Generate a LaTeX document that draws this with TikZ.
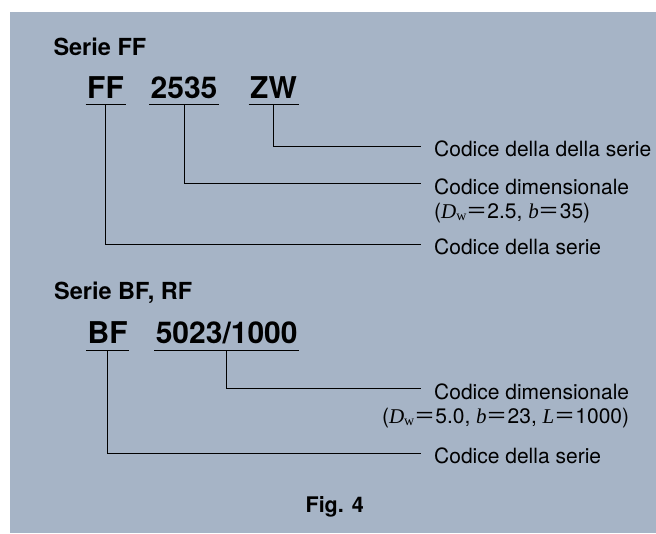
\documentclass[tikz,border=0pt]{standalone}
\usepackage{fontspec}
\setmainfont{TeX Gyre Heros}
\newfontfamily\tms{Liberation Serif}
\newfontfamily\cjk{Noto Sans CJK JP}
\usetikzlibrary{positioning}
\definecolor{panelblue}{RGB}{166,180,198}
\newcommand{\eq}{{\cjk ＝}}
\newcommand{\Dw}{{\tms\itshape D}{\tms\fontsize{14}{14}\selectfont\raisebox{-1.5pt}{w}}}
\newcommand{\vit}[1]{{\tms\itshape #1}}

\begin{document}
\begin{tikzpicture}[x=1pt,y=-1pt,
  code/.style={inner sep=0pt,anchor=base west,font=\fontsize{30}{30}\selectfont\bfseries},
  head/.style={inner sep=0pt,anchor=base west,font=\fontsize{23.5}{24}\selectfont\bfseries},
  lab/.style={inner sep=0pt,anchor=base west,font=\fontsize{21}{24}\selectfont},
  lead/.style={line width=1pt}]
\useasboundingbox (0,0) rectangle (656,533);
\fill[panelblue] (10,12) rectangle (656,533);

% Serie FF
\node[head] (headFF) at (53.3,55) {Serie FF};
\node[code] (ff) at (87,98.3) {FF};
\node[code] (dimFF) at (150.5,98.3) {2535};
\node[code] (zw) at (250,98.3) {ZW};
\node[lab] (labZW) at (434,156.5) {Codice della della serie};
\node[lab] (labDimFF) at (434,194) {Codice dimensionale};
\node[lab] (valFF) at ([yshift=-24.5pt]labDimFF.base west) {(\Dw\eq2.5, \vit{b}\eq35)};
\node[lab] (labFF) at (434,254.5) {Codice della serie};

% Serie BF, RF
\node[head] (headBF) at (54,299.3) {Serie BF, RF};
\node[code] (bf) at (87.5,343.3) {BF};
\node[code] (dimBF) at (155.6,343.3) {5023/1000};
\node[lab] (labDimBF) at (434,399) {Codice dimensionale};
\node[lab,anchor=base east] (valBF) at ([yshift=-24.5pt]labDimBF.base east) {(\Dw\eq5.0, \vit{b}\eq23, \vit{L}\eq1000)};
\node[lab] (labBF) at (434,463.5) {Codice della serie};

\node[inner sep=0pt,anchor=base,font=\fontsize{21.5}{22}\selectfont\bfseries] (fig) at (334.7,512.3) {Fig. 4};

% underlines
\foreach \c/\d in {ff/6.4,dimFF/6.4,zw/6.4,bf/7.4,dimBF/7.4}
  \draw[lead] ([xshift=-1.5pt,yshift=-\d pt]\c.base west) -- ([xshift=1.5pt,yshift=-\d pt]\c.base east);

% leaders
\foreach \c/\l/\d in {zw/labZW/6.4,dimFF/labDimFF/6.4,ff/labFF/6.4,dimBF/labDimBF/7.4,bf/labBF/7.4}
  \draw[lead] ([yshift=-\d pt]\c.base) |- ([shift={(-13pt,10.5pt)}]\l.base west);
\end{tikzpicture}
\end{document}
